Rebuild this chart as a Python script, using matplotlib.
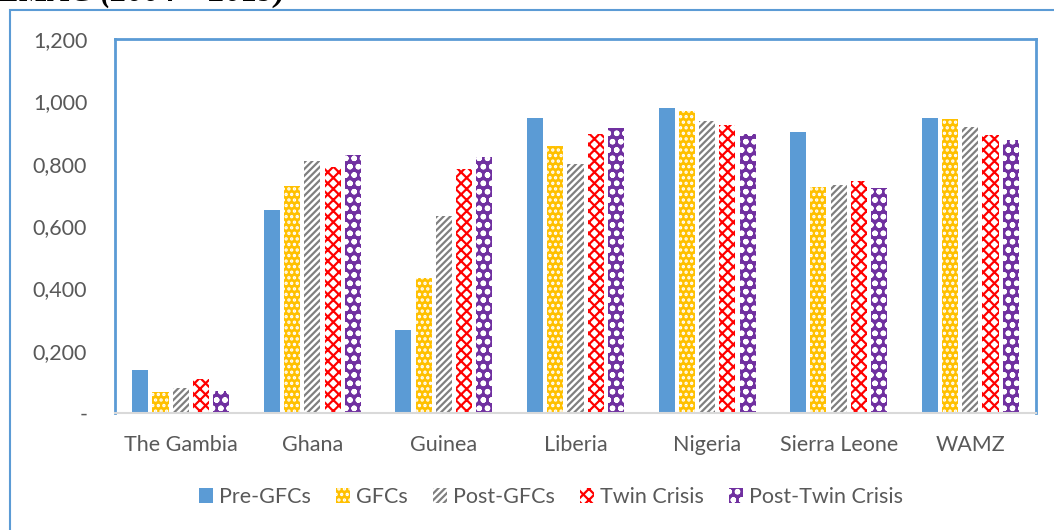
import numpy as np
import matplotlib
matplotlib.use("Agg")
from matplotlib import pyplot as plt
from matplotlib.patches import Rectangle

# data
countries = ['The Gambia', 'Ghana', 'Guinea', 'Liberia', 'Nigeria', 'Sierra Leone', 'WAMZ']
pre_gfc = [0.138, 0.651, 0.266, 0.946, 0.979, 0.901, 0.946]
gfc = [0.067, 0.728, 0.433, 0.857, 0.969, 0.725, 0.943]
post_gfc = [0.080, 0.808, 0.632, 0.800, 0.937, 0.731, 0.918]
twin = [0.109, 0.789, 0.783, 0.894, 0.924, 0.744, 0.892]
post_twin = [0.071, 0.828, 0.821, 0.913, 0.895, 0.722, 0.876]
series_names = ['Pre-GFCs', 'GFCs', 'Post-GFCs', 'Twin Crisis', 'Post-Twin Crisis']
ytick_vals = [0, 0.2, 0.4, 0.6, 0.8, 1.0, 1.2]
ytick_labels = ['-', '0,200', '0,400', '0,600', '0,800', '1,000', '1,200']

plt.rcParams['font.family'] = ['Lato', 'DejaVu Sans']
plt.rcParams['hatch.linewidth'] = 1.6

blue = '#5B9BD5'
txt = '#595959'

# (face, hatch colour, hatch)
styles = [
    (blue, blue, None),
    ('#FFC000', 'white', '...'),
    ('white', '#7F7F7F', '/////'),
    ('white', '#FF0000', 'xxx'),
    ('#7030A0', 'white', 'oo'),
]
all_series = [pre_gfc, gfc, post_gfc, twin, post_twin]

fig = plt.figure(figsize=(10.54, 5.30), dpi=100)
ax = fig.add_axes([115/1054, 1-413/530, (1036-115)/1054, (413-39)/530])

x = np.arange(len(countries))
pitch = 0.154
width = 0.122
for i, (vals, (fc, hc, h)) in enumerate(zip(all_series, styles)):
    ax.bar(x + (i - 2) * pitch, vals, width, color=fc, edgecolor=hc, hatch=h,
           linewidth=0, label=series_names[i])

ax.set_xlim(-0.5, len(countries) - 0.5)
ax.set_ylim(0, 1.2)
ax.set_yticks(ytick_vals)
ax.set_yticklabels(ytick_labels)
ax.set_xticks(x)
ax.set_xticklabels(countries)
ax.tick_params(axis='both', length=0, labelsize=15.5, labelcolor=txt)
ax.tick_params(axis='y', pad=20)
ax.tick_params(axis='x', pad=16)

for s in ['left', 'top', 'right']:
    ax.spines[s].set_color(blue)
    ax.spines[s].set_linewidth(2)
ax.spines['bottom'].set_color('#D9D9D9')
ax.spines['bottom'].set_linewidth(1.5)

leg = fig.legend(loc='center', bbox_to_anchor=(551/1054, 1-497/530), ncol=5, frameon=False,
                 fontsize=15.5, handlelength=0.65, handleheight=0.65, handletextpad=0.3,
                 columnspacing=1.15)
for t in leg.get_texts():
    t.set_color(txt)

# outer chart border
fig.patches.append(Rectangle((9.5/1054, -0.1), 1.2, 1.1 - 10/530, transform=fig.transFigure,
                             fill=False, edgecolor=blue, linewidth=1.5))

# page title above the chart, cut off at the top as in the source
fig.text(-0.002, 1-1/530, 'EMAC (2004 – 2019)', family='Liberation Serif', fontsize=23.5,
         fontweight='bold', fontstyle='italic', va='baseline', ha='left')

plt.savefig('out.png', dpi=100)
